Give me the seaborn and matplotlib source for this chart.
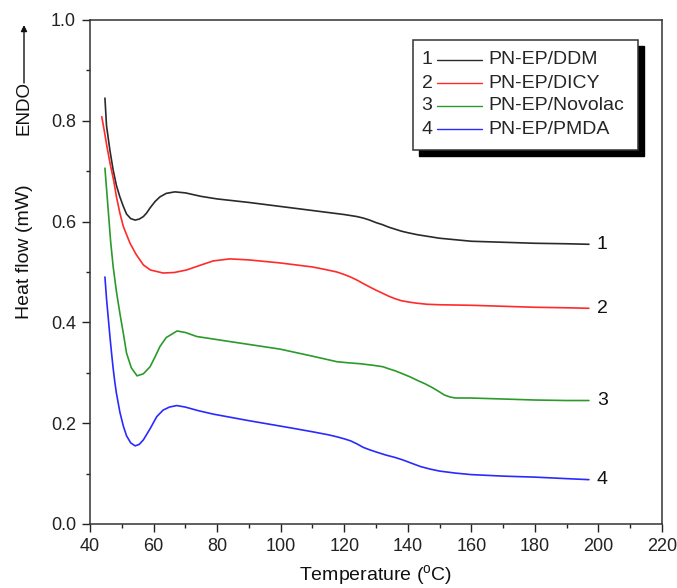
import numpy as np
import pandas as pd
import matplotlib
matplotlib.use("Agg")
import matplotlib.pyplot as plt
from matplotlib.patches import Rectangle
from matplotlib.ticker import MultipleLocator
import seaborn as sns

# ---------------- data ----------------
names = ["PN-EP/DDM", "PN-EP/DICY", "PN-EP/Novolac", "PN-EP/PMDA"]
numbers = ["1", "2", "3", "4"]
colors = ["#2a2a2a", "#ff2a2a", "#2a9a2a", "#2a2aff"]

t_ddm = [44.7, 45.2, 46.3, 47.3, 48.3, 49.4, 50.5, 51.5, 52.8, 54.2, 55.5, 56.8, 57.8, 59, 60.5, 62, 64,
         66.7, 70, 75, 80, 90, 100, 110, 115, 120, 124, 126, 128, 130, 132, 134, 136, 138, 140, 143,
         146, 150, 155, 160, 170, 180, 190, 197]
v_ddm = [0.845, 0.790, 0.740, 0.702, 0.672, 0.649, 0.630, 0.615, 0.606, 0.603, 0.605, 0.610, 0.617, 0.628,
         0.640, 0.649, 0.656, 0.659, 0.657, 0.650, 0.645, 0.638, 0.630, 0.622, 0.618, 0.614, 0.610, 0.607,
         0.603, 0.598, 0.594, 0.589, 0.585, 0.581, 0.578, 0.574, 0.571, 0.567, 0.564, 0.561, 0.559, 0.557,
         0.556, 0.555]

t_dicy = [43.7, 44.5, 45.3, 46.3, 47.5, 48.3, 49.4, 50.5, 52.6, 54.5, 56.8, 59, 63, 66.5, 70.4, 74.5, 78.8,
          84, 90, 99.8, 110, 114, 117.7, 120, 122, 124, 126, 128.1, 130, 132, 134, 136, 138, 140.7, 143,
          146, 150, 159.6, 170, 180, 190, 197]
v_dicy = [0.808, 0.780, 0.750, 0.716, 0.680, 0.650, 0.617, 0.590, 0.557, 0.535, 0.514, 0.504, 0.498,
          0.499, 0.504, 0.513, 0.522, 0.526, 0.524, 0.518, 0.510, 0.505, 0.500, 0.495, 0.490, 0.484, 0.477,
          0.470, 0.464, 0.458, 0.452, 0.447, 0.443, 0.440, 0.438, 0.436, 0.435, 0.434, 0.432, 0.430, 0.429,
          0.428]

t_nov = [44.7, 45.8, 46.5, 47.3, 48.3, 49.4, 50.5, 51.5, 53, 54.8, 56.8, 58.9, 60.5, 62, 64, 67.4, 70, 73.6,
         84, 99.8, 110, 117.7, 121, 125, 129, 132.2, 134, 136, 138, 140.7, 143, 145.5, 147.9, 150, 151.5,
         153.3, 155, 159.6, 170, 180, 190, 197]
v_nov = [0.706, 0.617, 0.560, 0.510, 0.462, 0.418, 0.378, 0.339, 0.310, 0.294, 0.298, 0.312, 0.332, 0.352,
         0.370, 0.383, 0.380, 0.372, 0.362, 0.347, 0.333, 0.322, 0.320, 0.318, 0.315, 0.312, 0.308, 0.304,
         0.299, 0.292, 0.285, 0.278, 0.270, 0.262, 0.256, 0.252, 0.250, 0.250, 0.248, 0.246, 0.245, 0.245]

t_pmda = [44.7, 45.2, 45.8, 46.3, 46.8, 47.3, 47.8, 48.3, 49.4, 50.5, 51.5, 52.8, 54.2, 55.5, 56.8, 59, 61,
          63, 65, 67.3, 70, 74, 78.8, 90, 102.9, 110, 115, 117.7, 120, 122, 124, 126, 128.1, 130, 133, 136,
          138.5, 141, 144, 147, 150, 155, 160, 170, 180, 190, 197]
v_pmda = [0.490, 0.447, 0.405, 0.370, 0.338, 0.308, 0.282, 0.260, 0.222, 0.194, 0.175, 0.161, 0.155, 0.158,
          0.167, 0.190, 0.213, 0.226, 0.232, 0.235, 0.232, 0.225, 0.218, 0.205, 0.191, 0.183, 0.177, 0.173,
          0.169, 0.165, 0.159, 0.152, 0.147, 0.143, 0.137, 0.132, 0.127, 0.121, 0.114, 0.109, 0.105, 0.101,
          0.098, 0.095, 0.093, 0.090, 0.088]

x_ticks = [40, 60, 80, 100, 120, 140, 160, 180, 200, 220]
y_ticks = [0.0, 0.2, 0.4, 0.6, 0.8, 1.0]

# ---------------- build long-form table ----------------
frames = []
for name, t, v in zip(names, [t_ddm, t_dicy, t_nov, t_pmda], [v_ddm, v_dicy, v_nov, v_pmda]):
    frames.append(pd.DataFrame({"T": t, "v": v, "sample": name}))
df = pd.concat(frames, ignore_index=True)

sns.set_style("ticks")
plt.rcParams["font.family"] = ["Liberation Sans", "DejaVu Sans"]
plt.rcParams["mathtext.fontset"] = "custom"
plt.rcParams["mathtext.rm"] = "Liberation Sans"

W, H = 677, 588
fig = plt.figure(figsize=(W / 100, H / 100), dpi=100)
L, R, B, T = 90, 662, 64, 568
ax = fig.add_axes([L / W, B / H, (R - L) / W, (T - B) / H])

sns.lineplot(data=df, x="T", y="v", hue="sample", palette=dict(zip(names, colors)),
             hue_order=names, estimator=None, sort=False, legend=False, lw=1.2, ax=ax)

ax.set_xlim(40, 220)
ax.set_ylim(0, 1.0)
ax.set_xticks(x_ticks)
ax.set_yticks(y_ticks)
ax.set_yticklabels([f"{y:.1f}" for y in y_ticks])
ax.xaxis.set_minor_locator(MultipleLocator(10))
ax.yaxis.set_minor_locator(MultipleLocator(0.1))
ax.tick_params(which="major", direction="out", length=6, width=1.0, labelsize=13,
               colors="#222222", top=False, right=False, pad=4)
ax.tick_params(which="minor", direction="out", length=3, width=1.0, top=False, right=False,
               colors="#222222")
for s in ax.spines.values():
    s.set_linewidth(1.1)
    s.set_color("#333333")

ax.set_xlabel("Temperature ($^{\\rm o}$C)", fontsize=14, color="#111111")
ax.set_ylabel("Heat flow (mW)", fontsize=14, color="#111111")
ax.xaxis.set_label_coords(0.5, -0.078)
ax.yaxis.set_label_coords(-0.10, 0.54)

# curve number labels at the right
end_vals = [v_ddm[-1], v_dicy[-1], v_nov[-1], v_pmda[-1]]
for num, ev in zip(numbers, end_vals):
    ax.text(199.5, ev, num, fontsize=14, ha="left", va="center", color="#111111")

# legend box drawn in axes fraction
def fx(px):
    return (px - L) / (R - L)

def fy(py):
    return (524 - py) / (524 - 20)

bx0, bx1, by0, by1 = 413, 638, 40, 150
sh = 6
ax.add_patch(Rectangle((fx(bx0 + sh), fy(by1 + sh)), fx(bx1) - fx(bx0), fy(by0) - fy(by1),
                       transform=ax.transAxes, facecolor="black", edgecolor="black", zorder=5))
ax.add_patch(Rectangle((fx(bx0), fy(by1)), fx(bx1) - fx(bx0), fy(by0) - fy(by1),
                       transform=ax.transAxes, facecolor="white", edgecolor="#333333", lw=1.1, zorder=6))
rows = [60, 83, 106, 129]
for num, name, c, ry in zip(numbers, names, colors, rows):
    ax.text(fx(427), fy(ry), num, transform=ax.transAxes, fontsize=14, ha="center", va="center", zorder=7)
    ax.plot([fx(437), fx(482)], [fy(ry), fy(ry)], transform=ax.transAxes, color=c, lw=1.0, zorder=7)
    ax.text(fx(488), fy(ry), name, transform=ax.transAxes, fontsize=14, ha="left", va="center", zorder=7)

# ENDO arrow
fig.text(24 / W, (H - 108) / H, "ENDO", rotation=90, ha="center", va="center", fontsize=13.5,
         color="#111111")
ax.annotate("", xy=(24, H - 25), xytext=(24, H - 83), xycoords="figure pixels",
            textcoords="figure pixels",
            arrowprops=dict(arrowstyle="-|>", lw=1.0, color="#111111", mutation_scale=9,
                            shrinkA=0, shrinkB=0), annotation_clip=False)

fig.savefig("out.png", dpi=100)
